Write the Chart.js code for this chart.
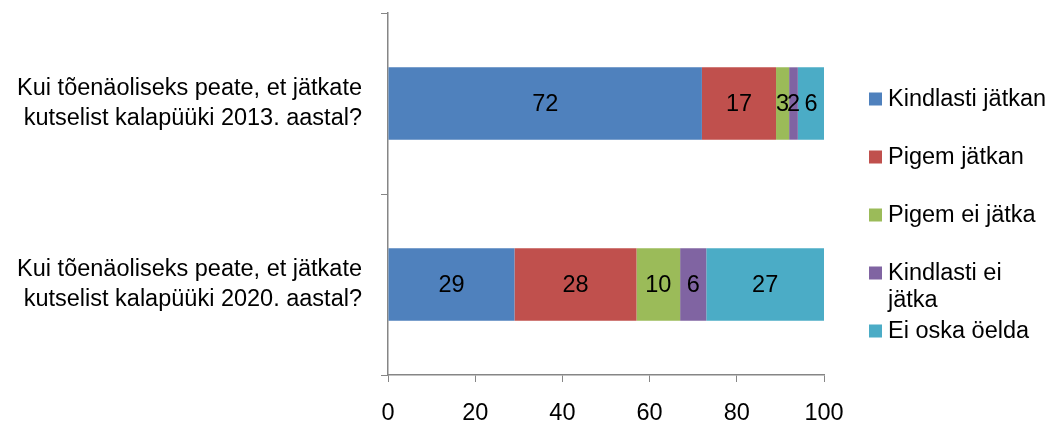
<!DOCTYPE html>
<html>
<head>
<meta charset="utf-8">
<script src="https://cdn.jsdelivr.net/npm/chart.js@4/dist/chart.umd.min.js"></script>
<style>
  body { margin: 0; background: #fff; }
</style>
</head>
<body>
<canvas id="chart" width="1053" height="421"></canvas>
<script>
// Chart data
const categories = [
    ['Kui tõenäoliseks peate, et jätkate', 'kutselist kalapüüki 2013. aastal?'],
    ['Kui tõenäoliseks peate, et jätkate', 'kutselist kalapüüki 2020. aastal?']
];
const seriesNames = ['Kindlasti jätkan', 'Pigem jätkan', 'Pigem ei jätka', ['Kindlasti ei', 'jätka'], 'Ei oska öelda'];
const kindlastiJatkan = [72, 29];
const pigemJatkan = [17, 28];
const pigemEiJatka = [3, 10];
const kindlastiEiJatka = [2, 6];
const eiOskaOelda = [6, 27];
const xTicks = [0, 20, 40, 60, 80, 100];

const seriesColors = ['#4F81BD', '#C0504D', '#9BBB59', '#8064A2', '#4BACC6'];
const axisColor = '#868686';
const fontFamily = '"Liberation Sans", Arial, sans-serif';
const fontSize = 23.5;

const seriesValues = [kindlastiJatkan, pigemJatkan, pigemEiJatka, kindlastiEiJatka, eiOskaOelda];

// Value labels in the middle of each segment
const segmentLabels = {
    id: 'segmentLabels',
    afterDatasetsDraw(chart) {
        const ctx = chart.ctx;
        ctx.save();
        ctx.font = fontSize + 'px ' + fontFamily;
        ctx.fillStyle = '#000';
        ctx.textAlign = 'center';
        ctx.textBaseline = 'middle';
        chart.data.datasets.forEach((ds, i) => {
            const meta = chart.getDatasetMeta(i);
            meta.data.forEach((bar, j) => {
                const { x, y, base } = bar.getProps(['x', 'y', 'base'], true);
                ctx.fillText(String(ds.data[j]), (x + base) / 2, y + 1);
            });
        });
        ctx.restore();
    }
};

// Legend on the right, with wrapped item text
const sideLegend = {
    id: 'sideLegend',
    afterDraw(chart) {
        const ctx = chart.ctx;
        ctx.save();
        ctx.font = fontSize + 'px ' + fontFamily;
        ctx.textBaseline = 'middle';
        ctx.textAlign = 'left';
        const left = 869;
        const top = 99;
        const step = 58;
        chart.data.datasets.forEach((ds, i) => {
            const cy = top + i * step;
            ctx.fillStyle = ds.backgroundColor;
            ctx.fillRect(left, cy - 6.5, 13, 13);
            ctx.fillStyle = '#000';
            const lines = Array.isArray(seriesNames[i]) ? seriesNames[i] : [seriesNames[i]];
            lines.forEach((line, k) => {
                ctx.fillText(line, left + 19, cy + 1 + k * 27);
            });
        });
        ctx.restore();
    }
};

new Chart(document.getElementById('chart'), {
    type: 'bar',
    data: {
        labels: categories,
        datasets: seriesValues.map((vals, i) => ({
            label: Array.isArray(seriesNames[i]) ? seriesNames[i].join(' ') : seriesNames[i],
            data: vals,
            backgroundColor: seriesColors[i],
            borderWidth: 0,
            barPercentage: 0.4,
            categoryPercentage: 1
        }))
    },
    options: {
        indexAxis: 'y',
        responsive: false,
        animation: false,
        devicePixelRatio: 1,
        layout: { padding: { top: 13, right: 229, left: 0, bottom: 0 } },
        plugins: {
            legend: { display: false },
            tooltip: { enabled: false }
        },
        scales: {
            x: {
                stacked: true,
                min: 0,
                max: 100,
                afterBuildTicks: (scale) => { scale.ticks = xTicks.map(v => ({ value: v })); },
                grid: { drawOnChartArea: false, color: axisColor, tickLength: 7 },
                border: { color: axisColor, width: 1.5 },
                ticks: {
                    color: '#000',
                    padding: 17,
                    font: { family: fontFamily, size: fontSize }
                },
                afterFit: (scale) => {
                    scale.height = 46;
                    scale.paddingLeft = 0;
                    scale.paddingRight = 0;
                }
            },
            y: {
                stacked: true,
                grid: { drawOnChartArea: false, offset: true, color: axisColor, tickLength: 7 },
                border: { color: axisColor, width: 1.5 },
                ticks: {
                    color: '#000',
                    padding: 19,
                    font: { family: fontFamily, size: fontSize, lineHeight: 1.28 }
                },
                afterFit: (scale) => {
                    scale.width = 388;
                    scale.paddingTop = 0;
                    scale.paddingBottom = 0;
                }
            }
        }
    },
    plugins: [segmentLabels, sideLegend]
});
</script>
</body>
</html>
